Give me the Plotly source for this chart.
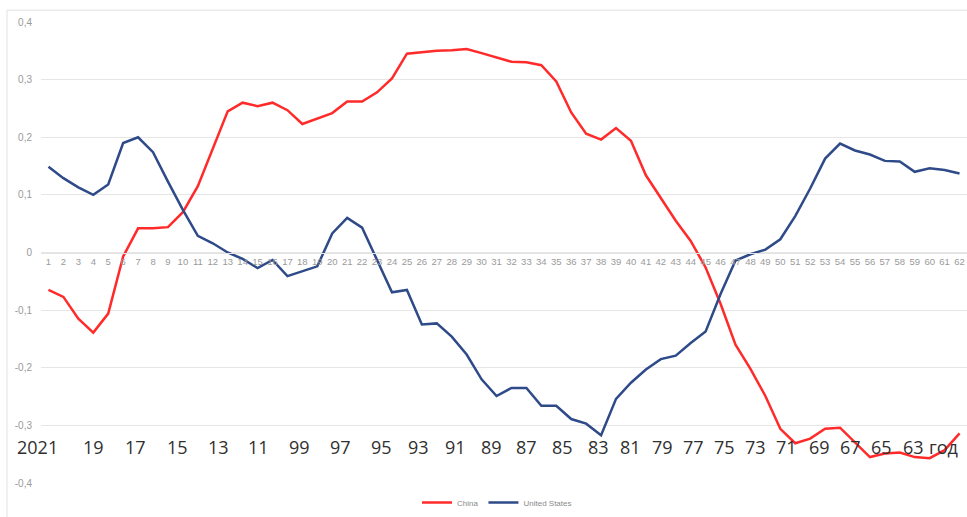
import plotly.graph_objects as go

# ---- data ----
categories = [str(i) for i in range(1, 63)]

china = [-0.065, -0.077, -0.115, -0.139, -0.106, -0.007, 0.042, 0.042, 0.044, 0.070,
         0.115, 0.180, 0.245, 0.260, 0.254, 0.260, 0.247, 0.223, 0.232, 0.242,
         0.262, 0.262, 0.278, 0.302, 0.345, 0.348, 0.350, 0.351, 0.353, 0.346,
         0.338, 0.331, 0.330, 0.325, 0.297, 0.243, 0.206, 0.196, 0.216, 0.194,
         0.134, 0.094, 0.055, 0.020, -0.026, -0.089, -0.160, -0.202, -0.249, -0.306,
         -0.331, -0.323, -0.306, -0.304, -0.329, -0.355, -0.349, -0.347, -0.355, -0.357,
         -0.343, -0.314]

united_states = [0.149, 0.129, 0.113, 0.100, 0.118, 0.190, 0.200, 0.174, 0.123, 0.074,
                 0.029, 0.016, 0.000, -0.011, -0.027, -0.013, -0.041, -0.033, -0.024, 0.033,
                 0.060, 0.043, -0.014, -0.069, -0.065, -0.125, -0.123, -0.146, -0.177, -0.220,
                 -0.249, -0.235, -0.235, -0.266, -0.266, -0.289, -0.297, -0.317, -0.254, -0.226,
                 -0.203, -0.185, -0.179, -0.157, -0.137, -0.072, -0.014, -0.003, 0.005, 0.023,
                 0.063, 0.111, 0.163, 0.189, 0.177, 0.170, 0.159, 0.158, 0.140, 0.146,
                 0.143, 0.137]

y_tick_values = [-0.4, -0.3, -0.2, -0.1, 0.0, 0.1, 0.2, 0.3, 0.4]
y_tick_labels = ["-0,4", "-0,3", "-0,2", "-0,1", "0", "0,1", "0,2", "0,3", "0,4"]

year_labels = ["2021", "19", "17", "15", "13", "11", "99", "97", "95", "93", "91", "89",
               "87", "85", "83", "81", "79", "77", "75", "73", "71", "69", "67", "65", "63", "год"]

# ---- layout ----
W, H = 967, 517
L, R, T, B = 41, 0, 22, 517 - 488
plot_w = W - L - R
plot_h = H - T - B
year_label_px = [37, 93, 135, 177, 218, 258, 299, 340, 381, 418, 455, 491,
                 526, 562, 598, 630, 662, 693, 724, 755, 786, 819, 850, 881, 913, 943]
year_label_py = 452


def px_x(px):
    return (px - L) / plot_w


def px_y(py):
    return (H - B - py) / plot_h


fig = go.Figure()
fig.add_trace(go.Scatter(x=categories, y=china, mode="lines", name="China",
                         line=dict(color="#ff2a2a", width=2.5)))
fig.add_trace(go.Scatter(x=categories, y=united_states, mode="lines", name="United States",
                         line=dict(color="#2e4a88", width=2.5)))

annotations = []
for lab, px in zip(year_labels, year_label_px):
    annotations.append(dict(
        text=lab, x=px_x(px), y=px_y(year_label_py),
        xref="paper", yref="paper", xanchor="center", yanchor="middle",
        showarrow=False, font=dict(family="Open Sans, Liberation Sans, sans-serif",
                                   size=18, color="#303030")))

fig.update_layout(
    width=W, height=H,
    margin=dict(l=L, r=R, t=T, b=B, pad=0),
    paper_bgcolor="white", plot_bgcolor="white",
    showlegend=True,
    legend=dict(orientation="h", x=px_x(497), xanchor="center",
                y=px_y(508), yanchor="middle",
                font=dict(size=8, color="#8a8a8a", family="Liberation Sans, sans-serif"),
                itemwidth=30, bgcolor="rgba(0,0,0,0)", tracegroupgap=0),
    xaxis=dict(type="category", range=[-0.5, 61.5], anchor="free", position=0.5,
               showgrid=False, zeroline=False, showline=True, linecolor="#e3e3e3", linewidth=1,
               ticks="", tickfont=dict(size=9.5, color="#9a9a9a", family="Liberation Sans, sans-serif"),
               tickangle=0),
    yaxis=dict(range=[-0.4, 0.4], tickvals=y_tick_values, ticktext=y_tick_labels,
               showgrid=True, gridcolor="#e6e6e6", gridwidth=1.2, zeroline=False,
               showline=False, ticks="", ticklabelstandoff=8,
               tickfont=dict(size=10, color="#9a9a9a", family="Liberation Sans, sans-serif")),
    annotations=annotations,
    shapes=[dict(type="rect", xref="paper", yref="paper",
                 x0=px_x(7), x1=px_x(975),
                 y0=px_y(525), y1=px_y(10),
                 line=dict(color="#e2e2e2", width=1), layer="below")],
)

fig.write_html("out.html", config={"displayModeBar": False},
               post_script="document.body.style.margin='0';")
